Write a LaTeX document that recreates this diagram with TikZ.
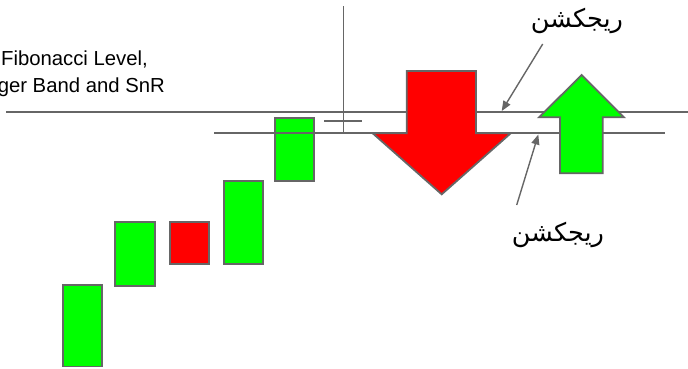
\documentclass[tikz,border=0pt]{standalone}
\usepackage{fontspec}
\setmainfont{Liberation Sans}
\newfontfamily\arabicfont[Script=Arabic]{DejaVu Sans}
\TeXXeTstate=1
\usetikzlibrary{arrows.meta}
\definecolor{cgreen}{HTML}{00FF00}
\definecolor{cred}{HTML}{FF0000}
\definecolor{lgray}{HTML}{666666}
\tikzset{
  level/.style={draw=lgray, line width=1.7pt},
  candle/.style={draw=lgray, line width=1.8pt},
  bull/.style={candle, fill=cgreen},
  bear/.style={candle, fill=cred},
  pointer/.style={draw=lgray, line width=1.4pt, -{Triangle[length=10pt,width=8pt]}},
  lbl/.style={font=\arabicfont\fontsize{25.5}{30}\selectfont, inner sep=0pt},
  note/.style={font=\fontsize{20.3}{24}\selectfont, inner sep=0pt},
}
\begin{document}
\begin{tikzpicture}[x=1pt,y=-1pt]
\useasboundingbox (0,0) rectangle (688,368);
\clip (0,0) rectangle (688,368);
% text at left
\node[note, anchor=base east] (t1) at (148,65) {Fibonacci Level,};
\node[note, anchor=base east] (t2) at (165,92) {ger Band and SnR};
% candles
\draw[bull] (62.7,285.3) rectangle (102,366.5);
\draw[bull] (115.3,222.3) rectangle (154.7,285.7);
\draw[bear] (169.7,222.3) rectangle (209,264.3);
\draw[bull] (224,181) rectangle (263,264.3);
\draw[bull] (275.3,117.7) rectangle (314.3,181);
% levels
\draw[level] (6,111.7) -- (688,111.7);
\draw[level] (214,133.3) -- (665,133.3);
\draw[level] (343.5,6) -- (343.5,133.3);
\draw[level] (324,121) -- (362,121);
% big arrows
\draw[bear] (406.7,71) -- (476,71) -- (476,133.3) -- (510.7,133.3) -- (441.7,194.3)
  -- (372.7,133.3) -- (406.7,133.3) -- cycle;
\draw[bull] (581.7,75) -- (624,117.3) -- (602.7,117.3) -- (602.7,173.3) -- (560,173.3)
  -- (560,117.3) -- (539,117.3) -- cycle;
% labels
\node[lbl] (rejUp) at (577,21) {\beginR ريجكشن\endR};
\node[lbl] (rejDn) at (558,235) {\beginR ريجكشن\endR};
\coordinate (rUpS) at (542.7,44);
\coordinate (rUpE) at (501.7,111);
\coordinate (rDnS) at (516.7,205);
\coordinate (rDnE) at (538.3,134.5);
\draw[pointer] (rUpS) -- (rUpE);
\draw[pointer] (rDnS) -- (rDnE);
\end{tikzpicture}
\end{document}
